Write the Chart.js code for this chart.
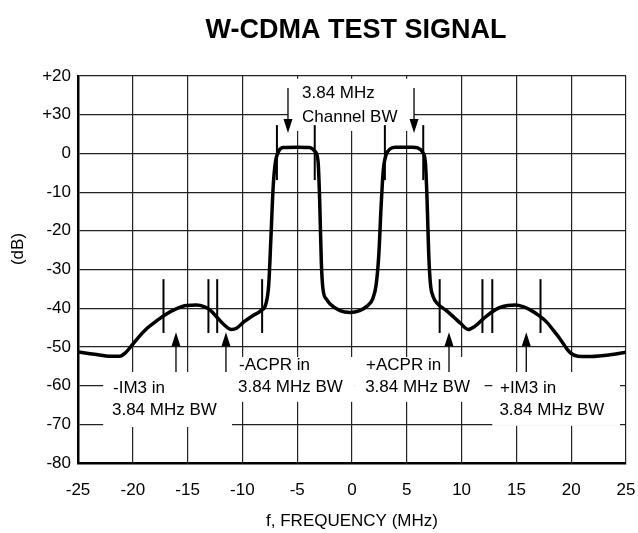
<!DOCTYPE html>
<html><head><meta charset="utf-8">
<script src="https://cdn.jsdelivr.net/npm/chart.js@4"></script>
<style>html,body{margin:0;padding:0;background:#fff}#wrap{width:638px;height:533px}</style>
</head><body><div id="wrap"><canvas id="c" width="638" height="533"></canvas></div>
<script>
// ---- data ----
const freqMHz = [-25,-23.5,-22,-21.2,-20.7,-20.2,-19.5,-18.7,-17.8,-17.0,-16.0,-15.1,-14.2,-13.5,-12.9,-12.3,-11.7,-11.0,-10.5,-9.9,-9.1,-8.3,-7.85,-7.6,-7.4,-7.2,-7.0,-6.7,-6.3,-5,-3.9,-3.4,-3.1,-2.95,-2.8,-2.65,-2.3,-2.0,-1.1,-0.2,0.7,1.4,1.9,2.2,2.45,2.65,2.85,3.1,3.5,4.0,5.5,6.0,6.45,6.7,6.85,7.0,7.15,7.4,7.8,8.7,9.4,9.9,10.6,11.2,12.0,12.7,13.4,14.2,14.9,15.6,16.3,17.0,17.7,18.4,19.0,19.6,20.0,20.6,21.5,23,25];
const levelDb = [-51.3,-51.9,-52.4,-52.4,-51.6,-50.0,-47.6,-45.2,-43.2,-41.6,-40.1,-39.3,-39.2,-39.6,-40.6,-42.4,-44.2,-45.5,-45.1,-43.6,-42.0,-40.6,-38.8,-34,-22,-9,-2.5,0.5,1.5,1.6,1.5,0.6,-2,-12,-28,-35,-37.8,-38.9,-40.6,-41.1,-40.6,-39.4,-37.5,-34,-26,-14,-4.5,-0.5,1.2,1.6,1.6,1.4,0.3,-2.5,-12,-26,-33.5,-37,-38.8,-40.8,-42.6,-43.9,-45.5,-44.7,-42.7,-41.1,-39.9,-39.3,-39.2,-39.6,-40.5,-41.8,-43.4,-45.8,-48,-50.5,-51.7,-52.4,-52.5,-52.2,-51.4];
const xTickValues = [-25,-20,-15,-10,-5,0,5,10,15,20,25];
const yTickValues = [20,10,0,-10,-20,-30,-40,-50,-60,-70,-80];
const yTickText = ['+20','+30','0','-10','-20','-30','-40','-50','-60','-70','-80'];
// integration-band edge markers (MHz) and their dB extent
const sideBandEdgesMHz = [-17.2,-13.1,-12.3,-8.2,8.0,11.9,12.8,17.2];
const sideBandSpanDb = [-32.5,-46.4];
const channelEdgesMHz = [-6.85,-3.4,3.0,6.5];
const channelSpanDb = [7.3,-6.9];
// arrows: x (MHz), tail (dB), tip (dB)
const arrowX = [-5.84,5.66,-16.06,-11.5,8.85,15.9];
const arrowTailDb = [16.9,16.9,-56.5,-56.5,-56.5,-56.5];
const arrowTipDb = [5.3,5.3,-46.2,-46.2,-46.2,-46.2];
// label boxes: [x0,x1,yTop,yBottom] in data units
const labelBoxes = [[-5.84,5.66,19.3,5.8],[-22.7,-10.95,-56.5,-70.7],[-10.95,0.2,-52.6,-64.2],[0.2,12.1,-52.6,-64.2],[12.8,24.45,-56.5,-70.4]];
// label texts: [text, x, y]
const labelTexts = [
  ['3.84 MHz',-4.56,15.6],['Channel BW',-4.56,9.4],
  ['-IM3 in',-21.8,-60.6],['3.84 MHz BW',-21.9,-66.3],
  ['-ACPR in',-10.3,-54.7],['3.84 MHz BW',-10.4,-60.4],
  ['+ACPR in',1.28,-54.7],['3.84 MHz BW',1.2,-60.4],
  ['+IM3 in',13.5,-60.6],['3.84 MHz BW',13.45,-66.3]
];
const FONT = "'Liberation Sans', Arial, Helvetica, sans-serif";

const annot = {
  id: 'annot',
  beforeDatasetsDraw(chart) {
    const {ctx, scales: {x, y}} = chart;
    ctx.save();
    ctx.fillStyle = '#fff';
    for (const b of labelBoxes) {
      const x0 = x.getPixelForValue(b[0]), x1 = x.getPixelForValue(b[1]);
      const y0 = y.getPixelForValue(b[2]), y1 = y.getPixelForValue(b[3]);
      ctx.fillRect(x0, y0, x1 - x0, y1 - y0);
    }
    ctx.restore();
  },
  afterDatasetsDraw(chart) {
    const {ctx, scales: {x, y}} = chart;
    ctx.save();
    ctx.strokeStyle = '#000';
    ctx.lineWidth = 2;
    const vline = (f, a, b) => {
      const px = x.getPixelForValue(f);
      ctx.beginPath(); ctx.moveTo(px, y.getPixelForValue(a)); ctx.lineTo(px, y.getPixelForValue(b)); ctx.stroke();
    };
    sideBandEdgesMHz.forEach(f => vline(f, sideBandSpanDb[0], sideBandSpanDb[1]));
    channelEdgesMHz.forEach(f => vline(f, channelSpanDb[0], channelSpanDb[1]));
    // arrows
    ctx.lineWidth = 1.3;
    ctx.fillStyle = '#000';
    arrowX.forEach((f, i) => {
      const px = x.getPixelForValue(f);
      const pt = y.getPixelForValue(arrowTailDb[i]);
      const pp = y.getPixelForValue(arrowTipDb[i]);
      const dir = pp > pt ? -1 : 1;
      const base = pp + dir * 14;
      ctx.beginPath(); ctx.moveTo(px, pt); ctx.lineTo(px, base); ctx.stroke();
      ctx.beginPath(); ctx.moveTo(px, pp); ctx.lineTo(px - 4.5, base); ctx.lineTo(px + 4.5, base); ctx.closePath(); ctx.fill();
    });
    ctx.font = '17px ' + FONT;
    ctx.textAlign = 'left';
    ctx.textBaseline = 'middle';
    for (const t of labelTexts) {
      ctx.fillText(t[0], x.getPixelForValue(t[1]), y.getPixelForValue(t[2]));
    }
    ctx.restore();
  },
  afterDraw(chart) {
    const {ctx, chartArea} = chart;
    ctx.save();
    ctx.fillStyle = '#000';
    ctx.font = 'bold 27px ' + FONT;
    ctx.textAlign = 'center';
    ctx.textBaseline = 'middle';
    ctx.fillText('W-CDMA TEST SIGNAL', (chartArea.left + chartArea.right) / 2 + 4, 31);
    ctx.translate(18, 249);
    ctx.rotate(-Math.PI / 2);
    ctx.font = '17px ' + FONT;
    ctx.fillText('(dB)', 0, 0);
    ctx.restore();
  }
};

new Chart(document.getElementById('c'), {
  type: 'scatter',
  data: {
    datasets: [{
      data: freqMHz.map((f, i) => ({x: f, y: levelDb[i]})),
      showLine: true,
      borderColor: '#000',
      borderWidth: 3.5,
      pointRadius: 0,
      cubicInterpolationMode: 'monotone',
      fill: false
    }]
  },
  options: {
    responsive: false,
    animation: false,
    devicePixelRatio: 1,
    layout: {padding: {top: 76, right: 12, left: 0, bottom: 0}},
    plugins: {legend: {display: false}, tooltip: {enabled: false}, title: {display: false}},
    scales: {
      x: {
        type: 'linear', min: -25, max: 25,
        afterBuildTicks: s => { s.ticks = xTickValues.map(v => ({value: v})); },
        afterFit: s => { s.height = 70; s.paddingLeft = 0; s.paddingRight = 0; },
        ticks: {font: {family: FONT, size: 17}, color: '#000', padding: 17, maxRotation: 0, callback: v => String(v)},
        grid: {color: '#222', lineWidth: 1.2, drawTicks: false},
        border: {display: true, color: '#000', width: 2.5},
        title: {display: true, text: 'f, FREQUENCY (MHz)', font: {family: FONT, size: 17}, color: '#000', padding: {top: 0, bottom: 1}}
      },
      y: {
        type: 'linear', min: -80, max: 20,
        afterBuildTicks: s => { s.ticks = yTickValues.map(v => ({value: v})); },
        afterFit: s => { s.width = 78; s.paddingTop = 0; s.paddingBottom = 0; },
        ticks: {font: {family: FONT, size: 17}, color: '#000', padding: 7,
          callback: v => { const i = yTickValues.indexOf(v); return i >= 0 ? yTickText[i] : ''; }},
        grid: {color: '#222', lineWidth: 1.2, drawTicks: false},
        border: {display: true, color: '#000', width: 2.5}
      }
    }
  },
  plugins: [annot]
});
</script>
</body></html>
